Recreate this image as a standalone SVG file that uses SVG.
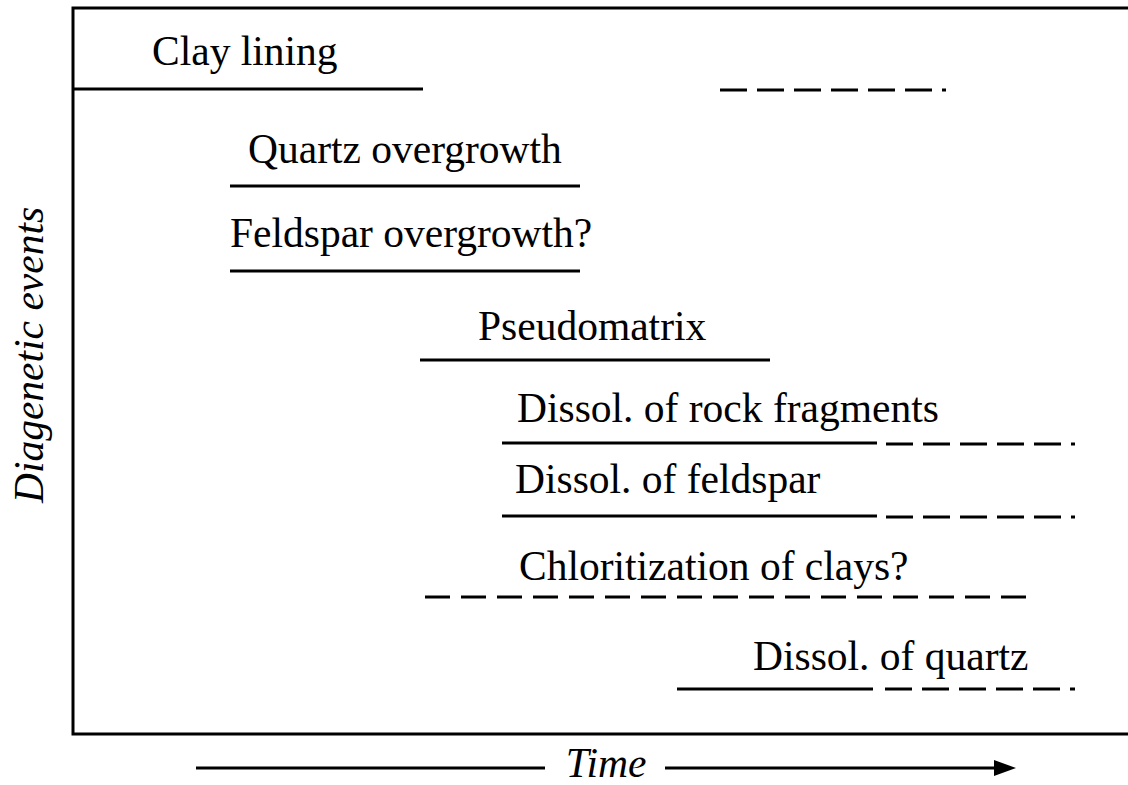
<svg xmlns="http://www.w3.org/2000/svg" width="1128" height="785" viewBox="0 0 1128 785">
  <style>
    .t { font-family: "Liberation Serif", "Times New Roman", serif; font-size: 41.5px; fill: #000; }
    .i { font-style: italic; }
    .s { stroke: #000; stroke-width: 3; fill: none; }
    .d { stroke: #000; stroke-width: 3; fill: none; stroke-dasharray: 27 10; }
    .d2 { stroke: #000; stroke-width: 3; fill: none; stroke-dasharray: 25 11; }
  </style>
  <rect width="1128" height="785" fill="#fff"/>
  <g id="frame">
    <path class="s" d="M1131 8 H73 V734 H1131"/>
  </g>
  <g id="axis-y">
    <text class="t i" transform="translate(43 355) rotate(-90)" text-anchor="middle">Diagenetic events</text>
  </g>
  <g id="axis-x">
    <text class="t i" x="606" y="777" text-anchor="middle">Time</text>
  </g>
  <g id="clay-lining">
    <text class="t" x="152" y="65">Clay lining</text>
  </g>
  <g id="quartz-overgrowth">
    <text class="t" x="248" y="163">Quartz overgrowth</text>
  </g>
  <g id="feldspar-overgrowth">
    <text class="t" x="230" y="247">Feldspar overgrowth?</text>
  </g>
  <g id="pseudomatrix">
    <text class="t" x="478" y="340">Pseudomatrix</text>
  </g>
  <g id="dissol-rock">
    <text class="t" x="517" y="422">Dissol. of rock fragments</text>
  </g>
  <g id="dissol-feldspar">
    <text class="t" x="515" y="493">Dissol. of feldspar</text>
  </g>
  <g id="chloritization">
    <text class="t" x="519" y="580">Chloritization of clays?</text>
  </g>
  <g id="dissol-quartz">
    <text class="t" x="753" y="670">Dissol. of quartz</text>
  </g>
  <g id="connectors">
    <line class="s" x1="73" y1="89" x2="423" y2="89"/>
    <line class="d" x1="720" y1="90" x2="946" y2="90"/>
    <line class="s" x1="230" y1="186" x2="580" y2="186"/>
    <line class="s" x1="230" y1="271" x2="580" y2="271"/>
    <line class="s" x1="420" y1="360" x2="770" y2="360"/>
    <line class="s" x1="502" y1="443" x2="877" y2="443"/>
    <line class="d" x1="886" y1="444" x2="1075" y2="444"/>
    <line class="s" x1="502" y1="516" x2="877" y2="516"/>
    <line class="d" x1="886" y1="517" x2="1075" y2="517"/>
    <line class="d2" x1="425" y1="597" x2="1027" y2="597"/>
    <line class="s" x1="677" y1="689" x2="873" y2="689"/>
    <line class="d" x1="885" y1="689" x2="1075" y2="689"/>
    <line class="s" x1="196" y1="768" x2="545" y2="768"/>
    <line class="s" x1="665" y1="768" x2="1000" y2="768"/>
    <path d="M994 760 L1016 768 L994 776 Z" fill="#000"/>
  </g>
</svg>
